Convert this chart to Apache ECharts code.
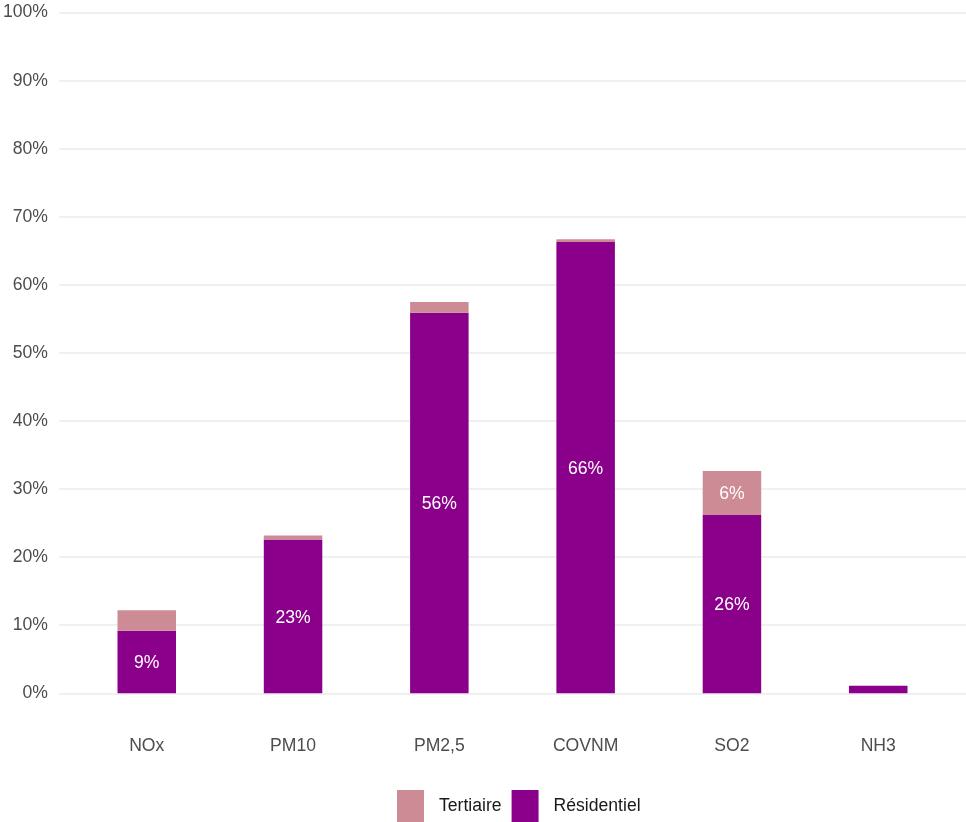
<!DOCTYPE html>
<html>
<head>
<meta charset="utf-8">
<script src="https://cdn.jsdelivr.net/npm/echarts@6/dist/echarts.min.js"></script>
<style>
  html, body { margin: 0; padding: 0; background: #ffffff; }
  #chart { width: 966px; height: 822px; }
</style>
</head>
<body>
<div id="chart"></div>
<script>
// Pollutants and the share of emissions (%) from each building sector
const categories = ['NOx', 'PM10', 'PM2,5', 'COVNM', 'SO2', 'NH3'];
const residentiel = [9.2, 22.6, 55.9, 66.3, 26.2, 1.1];
const tertiaire = [3.0, 0.6, 1.6, 0.4, 6.45, 0.0];
const yTicks = [0, 10, 20, 30, 40, 50, 60, 70, 80, 90, 100];

const FONT = 'Liberation Sans, Arial, sans-serif';
const FS = 17.6;
const COL_RES = '#8b008b';
const COL_TER = '#cd8b95';

const segLabel = {
  show: true,
  position: 'inside',
  color: '#ffffff',
  fontSize: FS,
  fontFamily: FONT,
  offset: [0, 1.5],
  formatter: p => (p.value >= 5 ? Math.round(p.value) + '%' : '')
};

const chart = echarts.init(document.getElementById('chart'), null, { renderer: 'canvas' });

chart.setOption({
  animation: false,
  backgroundColor: '#ffffff',
  textStyle: { fontFamily: FONT },
  grid: [
    // full-width panel carrying the horizontal gridlines and y labels
    { left: 59, right: 0, top: 12.6, bottom: 128.7 },
    // bar panel, inset so the outer bars sit in from the panel edges
    { left: 73.6, right: 14.6, top: 12.6, bottom: 128.7 }
  ],
  xAxis: [
    { gridIndex: 0, type: 'value', min: 0, max: 1, show: false },
    {
      gridIndex: 1,
      type: 'category',
      data: categories,
      axisLine: { show: false },
      axisTick: { show: false },
      axisLabel: { color: '#4d4d4d', fontSize: FS, fontFamily: FONT, margin: 44 }
    }
  ],
  yAxis: [
    {
      gridIndex: 0,
      type: 'value',
      min: yTicks[0],
      max: yTicks[yTicks.length - 1],
      interval: 10,
      axisLine: { show: false },
      axisTick: { show: false },
      splitLine: { lineStyle: { color: '#ebebeb', width: 1.6 } },
      axisLabel: { color: '#4d4d4d', fontSize: FS, fontFamily: FONT, margin: 11, formatter: '{value}%' }
    },
    {
      gridIndex: 1,
      type: 'value',
      min: yTicks[0],
      max: yTicks[yTicks.length - 1],
      show: false
    }
  ],
  legend: {
    data: ['Tertiaire', 'Résidentiel'],
    top: 790,
    left: 397,
    padding: 0,
    itemWidth: 27,
    itemHeight: 32,
    itemGap: 10,
    icon: 'rect',
    textStyle: { color: '#1a1a1a', fontSize: FS, fontFamily: FONT, padding: [0, 0, 0, 10] }
  },
  series: [
    {
      name: 'Résidentiel',
      type: 'bar',
      stack: 'total',
      xAxisIndex: 1,
      yAxisIndex: 1,
      barWidth: 58.5,
      data: residentiel,
      itemStyle: { color: COL_RES },
      label: segLabel
    },
    {
      name: 'Tertiaire',
      type: 'bar',
      stack: 'total',
      xAxisIndex: 1,
      yAxisIndex: 1,
      barWidth: 58.5,
      data: tertiaire,
      itemStyle: { color: COL_TER },
      label: segLabel
    }
  ]
});
</script>
</body>
</html>
